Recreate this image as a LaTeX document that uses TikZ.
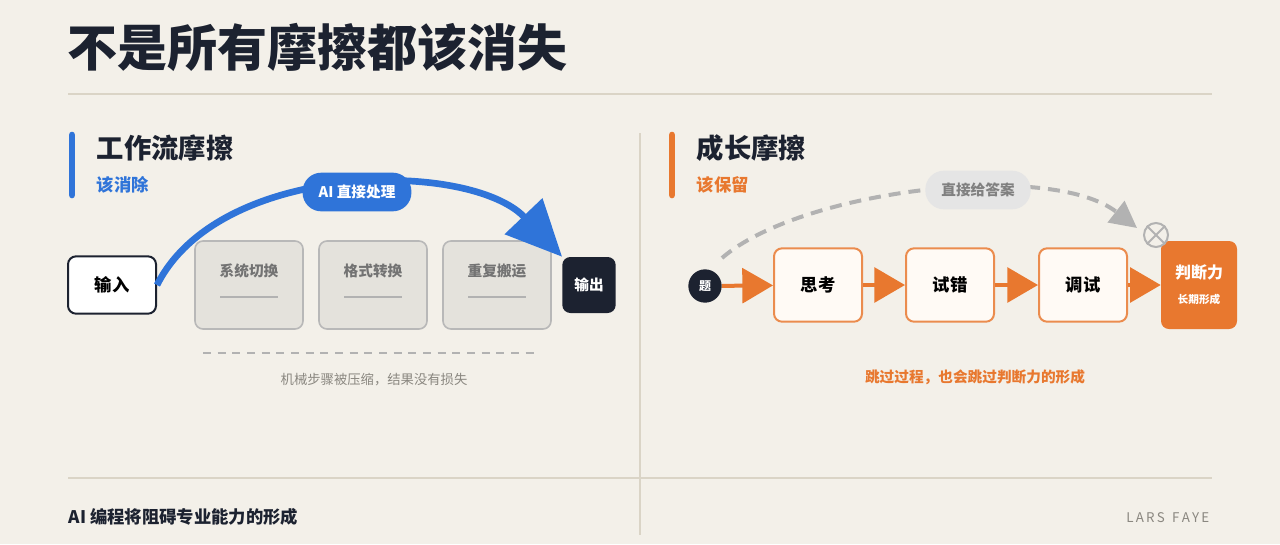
\documentclass[tikz,border=0pt]{standalone}
\usepackage{fontspec}
\setmainfont{Noto Sans CJK SC}
\usepackage{tikz}
\usetikzlibrary{arrows.meta,positioning,shapes}
\definecolor{mbg}{HTML}{F3F0E9}
\definecolor{mink}{HTML}{1C2230}
\definecolor{mblue}{HTML}{2F74D9}
\definecolor{morange}{HTML}{E8782F}
\definecolor{mrule}{HTML}{DAD4C6}
\definecolor{mgray}{HTML}{8A8780}
\definecolor{mbox}{HTML}{E4E2DC}
\tikzstyle{mstep}=[rounded corners=6pt, draw=black!28, line width=1.2, fill=mbox, minimum width=81pt, minimum height=66pt]
\tikzstyle{gstep}=[rounded corners=6pt, draw=morange!85, line width=1.5, fill=orange!4, minimum width=66pt, minimum height=55pt, font=\bfseries\fontsize{13}{15}\selectfont]
\tikzstyle{pill}=[rounded corners=14pt, minimum height=29pt, inner xsep=12pt, font=\bfseries\fontsize{11}{13}\selectfont]
\tikzstyle{oarr}=[draw=morange, line width=3, -{Triangle[length=23pt,width=26pt]}]
\tikzstyle{l1}=[line width=1]

\begin{document}
\begin{tikzpicture}[x=0.75pt, y=-0.75pt]
    \fill[mbg] (0,0) rectangle (1280,544);
    \useasboundingbox (0,0) rectangle (1280,544);

    \node[anchor=west, text=mink, font=\bfseries\fontsize{37.5}{42}\selectfont] (title) at (63,47) {不是所有摩擦都该消失};
    \draw[mrule, l1] (68,94) -- (1212,94);
    \draw[mrule, l1] (640,133) -- (640,535);
    \draw[mrule, l1] (68,478) -- (1212,478);

    % left: workflow
    \draw[mblue, line width=5, line cap=round] (72,135) -- (72,195);
    \node[anchor=west, text=mink, font=\bfseries\fontsize{20.5}{24}\selectfont] (lhead) at (92,148) {工作流摩擦};
    \node[anchor=west, text=mblue, font=\bfseries\fontsize{13}{15}\selectfont] (lsub) at (92,185) {该消除};

    \node[rounded corners=6pt, draw=mink, line width=1.5, fill=white, minimum width=66pt, minimum height=43pt, font=\bfseries\fontsize{13}{15}\selectfont] (in) at (112,285) {输入};
    \foreach \x/\t/\n in {249/系统切换/s1, 373/格式转换/s2, 497/重复搬运/s3}{
        \node[mstep] (\n) at (\x,285) {};
        \node[text=black!55, font=\bfseries\fontsize{11}{13}\selectfont] at (\x,271) {\t};
        \draw[black!30, line width=2.2] (\x-29,297) -- (\x+29,297);
    }
    \node[rounded corners=6pt, fill=mink, text=white, minimum width=40pt, minimum height=42pt, font=\bfseries\fontsize{11}{13}\selectfont] (out) at (589,285) {输出};

    \draw[mblue, line width=5, -{Triangle[length=42pt,width=38pt]}] (in.east) .. controls (220,160) and (470,160) .. (out.north west);
    \node[pill, fill=mblue, text=white] (ai) at (357,192) {AI 直接处理};

    \draw[black!30, line width=1.3, dash pattern=on 6pt off 5pt] (203,353) coordinate (d1) -- (540,353) coordinate (d2);
    \node[text=mgray, font=\fontsize{10}{12}\selectfont] (lnote) at (374,380) {机械步骤被压缩，结果没有损失};

    % right: growth
    \draw[morange, line width=5, line cap=round] (672,135) -- (672,195);
    \node[anchor=west, text=mink, font=\bfseries\fontsize{20.5}{24}\selectfont] (rhead) at (692,148) {成长摩擦};
    \node[anchor=west, text=morange, font=\bfseries\fontsize{13}{15}\selectfont] (rsub) at (692,185) {该保留};

    \node[circle, fill=mink, text=white, minimum size=25pt, inner sep=0pt, font=\bfseries\fontsize{9}{11}\selectfont] (q) at (705,286) {题};
    \node[gstep] (g1) at (818,285) {思考};
    \node[gstep] (g2) at (950,285) {试错};
    \node[gstep] (g3) at (1083,285) {调试};
    \node[rounded corners=6pt, fill=morange, minimum width=57pt, minimum height=66pt] (judge) at (1199,285) {};
    \node[text=white, font=\bfseries\fontsize{12}{14}\selectfont] at (1199,272) {判断力};
    \node[text=white, font=\bfseries\fontsize{8}{10}\selectfont] at (1199,299) {长期形成};

    \draw[oarr] (q) -- (g1);
    \draw[oarr] (g1) -- (g2);
    \draw[oarr] (g2) -- (g3);
    \draw[oarr] (g3) -- (judge);

    \coordinate (skip) at (722,258);
    \coordinate (tip) at (1137,228);
    \draw[black!30, line width=3, dash pattern=on 9pt off 6pt, -{Triangle[length=20pt,width=20pt]}] (skip) .. controls (800,190) and (1050,160) .. (tip);
    \node[pill, fill=black!10, text=black!50] (direct) at (978,190) {直接给答案};
    \node[circle, draw=black!30, line width=1.5, fill=mbg, minimum size=18pt, inner sep=0pt] (no) at (1156,235) {};
    \draw[black!30, line width=1.5] (no.north west) -- (no.south east) (no.north east) -- (no.south west);

    \node[text=morange, font=\bfseries\fontsize{11}{13}\selectfont] (rnote) at (975,377) {跳过过程，也会跳过判断力的形成};

    % footer
    \node[anchor=west, text=mink, font=\bfseries\fontsize{13}{15}\selectfont] (foot) at (64,517) {AI 编程将阻碍专业能力的形成};
    \node[anchor=east, text=mgray, font=\fontsize{10}{12}\selectfont] (brand) at (1214,518) {L\,A\,R\,S\, \,F\,A\,Y\,E};
\end{tikzpicture}
\end{document}
